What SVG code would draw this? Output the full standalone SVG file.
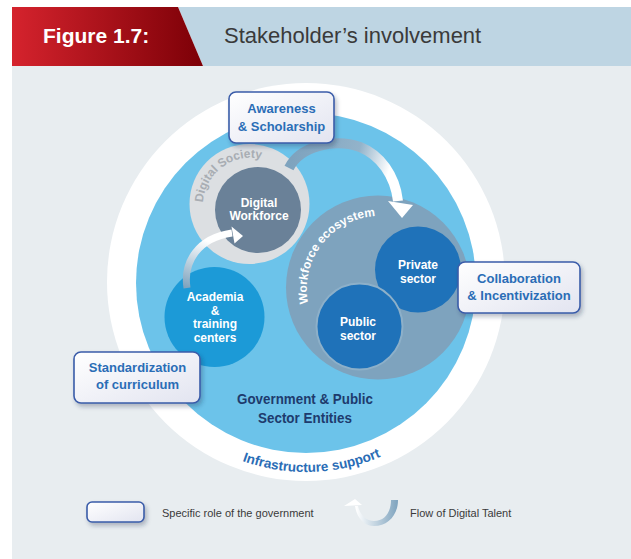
<svg xmlns="http://www.w3.org/2000/svg" width="631" height="559" viewBox="0 0 631 559">
<defs>
<linearGradient id="redg" x1="0" y1="0" x2="1" y2="0">
<stop offset="0" stop-color="#d5232d"/><stop offset="1" stop-color="#7c0007"/>
</linearGradient>
<linearGradient id="boxg" x1="0" y1="0" x2="1" y2="1">
<stop offset="0" stop-color="#ffffff"/><stop offset="1" stop-color="#e2e4f0"/>
</linearGradient>
<linearGradient id="bigArr" gradientUnits="userSpaceOnUse" x1="289" y1="168" x2="398" y2="200">
<stop offset="0" stop-color="#7ea3be"/><stop offset="0.55" stop-color="#93b3ca"/><stop offset="0.85" stop-color="#ffffff"/>
</linearGradient>
<linearGradient id="smallArr" gradientUnits="userSpaceOnUse" x1="187" y1="288" x2="205" y2="240">
<stop offset="0" stop-color="#7ea3be"/><stop offset="1" stop-color="#ffffff"/>
</linearGradient>
<linearGradient id="legArr" gradientUnits="userSpaceOnUse" x1="398" y1="510" x2="356" y2="510">
<stop offset="0" stop-color="#7ea3be"/><stop offset="1" stop-color="#ffffff"/>
</linearGradient>
<filter id="sh" x="-20%" y="-20%" width="140%" height="160%">
<feDropShadow dx="2" dy="3" stdDeviation="2" flood-color="#1a2a50" flood-opacity="0.3"/>
</filter>
<path id="pSoc" d="M 212.5 234.5 A 48 48 0 0 1 286.5 173.5"/>
<path id="pEco" d="M 333.6 345.4 A 73 73 0 0 1 422.4 229.6"/>
<path id="pInf" d="M 117 283 A 189 189 0 0 0 495 283"/>
</defs>
<style>
.box{fill:url(#boxg);stroke:#3a5ca9;stroke-width:1.6;filter:url(#sh)}
.bt{font-family:"Liberation Sans",Arial,sans-serif;font-weight:bold;font-size:13px;fill:#2a6db6;text-anchor:middle}
.ct{font-family:"Liberation Sans",Arial,sans-serif;font-weight:bold;font-size:12px;fill:#ffffff;text-anchor:middle}
.lt{font-family:"Liberation Sans",Arial,sans-serif;font-size:11px;fill:#3a3a3a}
.soc{font-family:"Liberation Sans",Arial,sans-serif;font-weight:bold;font-size:12px;fill:#a8adb3}
.gov{font-family:"Liberation Sans",Arial,sans-serif;font-weight:bold;font-size:14.5px;fill:#1e3b6d;text-anchor:middle}
</style>

<g id="header">
<rect x="12" y="66" width="619" height="493" fill="#e8edf0"/>
<polygon points="178,7 631,7 631,66 203,66" fill="#bed5e3"/>
<polygon points="12,7 178,7 203,66 12,66" fill="url(#redg)"/>
<text x="43" y="43" font-family="'Liberation Sans',Arial,sans-serif" font-weight="bold" font-size="21" fill="#ffffff">Figure 1.7:</text>
<text x="224" y="43" font-family="'Liberation Sans',Arial,sans-serif" font-size="22" fill="#3a3a3a">Stakeholder’s involvement</text>
</g>

<g id="infrastructure">
<circle cx="306" cy="282" r="199" fill="#ffffff"/>
<text font-family="'Liberation Sans',Arial,sans-serif" font-weight="bold" font-size="13.5" fill="#2a6db6" text-anchor="middle"><textPath href="#pInf" startOffset="51%">Infrastructure support</textPath></text>
</g>

<g id="government">
<circle cx="306" cy="283" r="170" fill="#6cc3ea"/>
<text class="gov" x="305" y="404" textLength="136" lengthAdjust="spacingAndGlyphs">Government &amp; Public</text>
<text class="gov" x="305" y="423" textLength="94" lengthAdjust="spacingAndGlyphs">Sector Entities</text>
</g>

<g id="ecosystem">
<circle cx="378" cy="287.5" r="92" fill="#7ea3be"/>
<text font-family="'Liberation Sans',Arial,sans-serif" font-weight="bold" font-size="12" fill="#ffffff" text-anchor="middle"><textPath href="#pEco" startOffset="50%">Workforce ecosystem</textPath></text>
</g>

<g id="private">
<circle cx="418" cy="269.5" r="43" fill="#1f72b9"/>
<text class="ct" x="418" y="269">Private</text>
<text class="ct" x="418" y="283">sector</text>
</g>

<g id="public">
<circle cx="359.5" cy="326.5" r="43" fill="#1f72b9" stroke="#8db0c9" stroke-width="2"/>
<text class="ct" x="358" y="326">Public</text>
<text class="ct" x="358" y="340">sector</text>
</g>

<g id="society">
<circle cx="249.5" cy="204" r="60" fill="#dcdfe2"/>
<text class="soc"><textPath href="#pSoc" startOffset="34">Digital</textPath></text>
<text class="soc"><textPath href="#pSoc" startOffset="74">Society</textPath></text>
</g>

<g id="workforce">
<circle cx="258" cy="210" r="43" fill="#6a8198"/>
<text class="ct" x="259" y="207">Digital</text>
<text class="ct" x="259" y="220">Workforce</text>
</g>

<g id="academia">
<circle cx="214.5" cy="317" r="50" fill="#1c9ad7"/>
<text class="ct" x="215" y="301">Academia</text>
<text class="ct" x="215" y="314.5">&amp;</text>
<text class="ct" x="215" y="328">training</text>
<text class="ct" x="215" y="341.5">centers</text>
</g>

<g id="connectors">
<path d="M 289 168 C 300 146, 335 138, 360 147 C 380 155, 395 175, 398 201" fill="none" stroke="url(#bigArr)" stroke-width="10"/>
<polygon points="388,201 413,205 402,218" fill="#ffffff"/>
<path d="M 187 288 C 183 262, 198 238, 232 233" fill="none" stroke="url(#smallArr)" stroke-width="7"/>
<polygon points="231.5,226.5 243,236 234.5,243.5" fill="#ffffff"/>
</g>

<g id="awareness">
<rect class="box" x="229" y="92" width="105" height="51" rx="7"/>
<text class="bt" x="281.5" y="113">Awareness</text>
<text class="bt" x="281.5" y="131">&amp; Scholarship</text>
</g>

<g id="collaboration">
<rect class="box" x="458" y="262" width="122" height="51" rx="7"/>
<text class="bt" x="519" y="283">Collaboration</text>
<text class="bt" x="519" y="300">&amp; Incentivization</text>
</g>

<g id="standardization">
<rect class="box" x="74" y="352" width="126" height="51" rx="7"/>
<text class="bt" x="137.5" y="372">Standardization</text>
<text class="bt" x="137.5" y="388.5">of curriculum</text>
</g>

<g id="legend">
<rect class="box" x="87" y="502" width="57" height="20" rx="5"/>
<text class="lt" x="162" y="517">Specific role of the government</text>
<path d="M 398 500 C 398 515, 388 526, 374 526 C 364 526, 357 518, 355 506 L 358 506 C 360 515, 366 521, 374 521 C 385 521, 391 512, 391 500 Z" fill="url(#legArr)"/>
<polygon points="344,506 355,499 362,505" fill="#ffffff"/>
<text class="lt" x="410" y="517">Flow of Digital Talent</text>
</g>
</svg>
